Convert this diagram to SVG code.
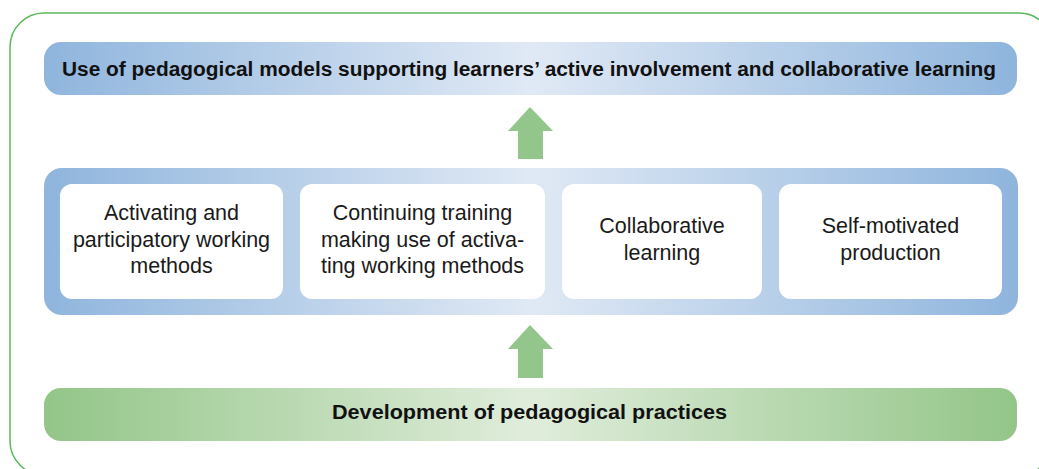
<svg xmlns="http://www.w3.org/2000/svg" width="1039" height="469" viewBox="0 0 1039 469">
<defs>
<linearGradient id="blueG" x1="0" y1="0" x2="1" y2="0">
<stop offset="0" stop-color="#8fb5dd"/>
<stop offset="0.5" stop-color="#e0e9f5"/>
<stop offset="1" stop-color="#8fb5dd"/>
</linearGradient>
<linearGradient id="greenG" x1="0" y1="0" x2="1" y2="0">
<stop offset="0" stop-color="#93c588"/>
<stop offset="0.5" stop-color="#e0eddb"/>
<stop offset="1" stop-color="#93c588"/>
</linearGradient>
<style>
.bold{font-family:"Liberation Sans",Arial,Helvetica,sans-serif;font-weight:bold;font-size:19.5px;fill:#111;text-anchor:middle}
.reg{font-family:"Liberation Sans",Arial,Helvetica,sans-serif;font-size:21.5px;fill:#1a1a1a;text-anchor:middle}
.box{fill:#ffffff}
.arrow{fill:#93c68a}
</style>
</defs>
<rect x="10" y="13" width="1043" height="462" rx="34" ry="34" fill="none" stroke="#5cb85c" stroke-width="1.5"/>
<g id="top">
<rect x="44" y="42" width="973" height="53" rx="17" fill="url(#blueG)"/>
<text class="bold" x="529" y="76" textLength="934" lengthAdjust="spacingAndGlyphs">Use of pedagogical models supporting learners’ active involvement and collaborative learning</text>
</g>
<g id="panel">
<rect x="44" y="168" width="974" height="147" rx="18" fill="url(#blueG)"/>
</g>
<g id="box1">
<rect class="box" x="60" y="184" width="223" height="115" rx="12"/>
<text class="reg" x="171.5" y="220">Activating and</text>
<text class="reg" x="171.5" y="246.5">participatory working</text>
<text class="reg" x="171.5" y="273">methods</text>
</g>
<g id="box2">
<rect class="box" x="300" y="184" width="245" height="115" rx="12"/>
<text class="reg" x="422.5" y="220">Continuing training</text>
<text class="reg" x="422.5" y="246.5">making use of activa-</text>
<text class="reg" x="422.5" y="273">ting working methods</text>
</g>
<g id="box3">
<rect class="box" x="562" y="184" width="200" height="115" rx="12"/>
<text class="reg" x="662" y="233">Collaborative</text>
<text class="reg" x="662" y="259.5">learning</text>
</g>
<g id="box4">
<rect class="box" x="779" y="184" width="223" height="115" rx="12"/>
<text class="reg" x="890.5" y="233">Self-motivated</text>
<text class="reg" x="890.5" y="259.5">production</text>
</g>
<g id="bottom">
<rect x="44" y="388" width="973" height="53" rx="17" fill="url(#greenG)"/>
<text class="bold" x="529.5" y="419" textLength="395" lengthAdjust="spacingAndGlyphs">Development of pedagogical practices</text>
</g>
<g id="connectors">
<polygon class="arrow" points="530,107 553,131 543,131 543,159 518,159 518,131 508,131"/>
<polygon class="arrow" points="530,325 553,349 543,349 543,378 518,378 518,349 508,349"/>
</g>
</svg>
